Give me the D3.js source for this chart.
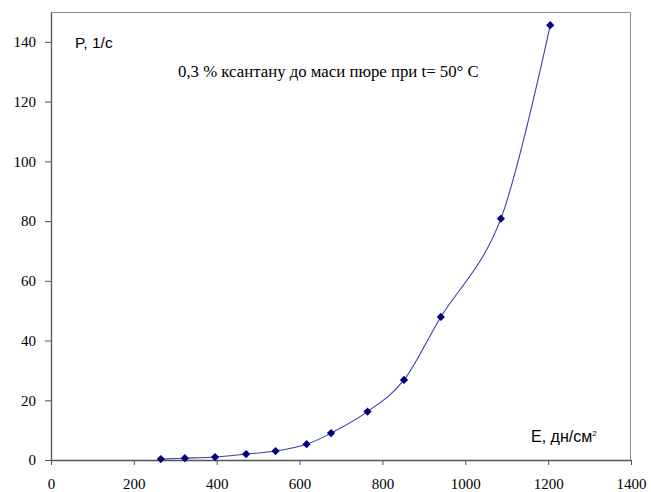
<!DOCTYPE html>
<html>
<head>
<meta charset="utf-8">
<script src="https://cdn.jsdelivr.net/npm/d3@7"></script>
<style>
  body { margin: 0; background: #fff; }
  svg { display: block; }
</style>
</head>
<body>
<svg id="chart" width="651" height="492"></svg>
<script>
// values
var shear = [265, 323, 396, 471, 542, 617, 676, 764, 852, 941, 1086, 1205];   // E, дн/см2
var rate = [0.3, 0.6, 1.0, 2.0, 3.0, 5.3, 9.0, 16.2, 26.8, 47.9, 80.8, 145.6]; // P, 1/с
var xTicks = [0, 200, 400, 600, 800, 1000, 1200, 1400];
var yTicks = [0, 20, 40, 60, 80, 100, 120, 140];

var SERIF = "'Liberation Serif'", SANS = "'Liberation Sans'";

var margin = {top: 12, right: 20, bottom: 32, left: 51},
    width = 651 - margin.left - margin.right,
    height = 492 - margin.top - margin.bottom;

var svg = d3.select("#chart");
var chart = svg.append("g")
    .attr("transform", "translate(" + margin.left + "," + margin.top + ")");

var x = d3.scaleLinear().domain([0, 1400]).range([0, width]);
var y = d3.scaleLinear().domain([0, 150]).range([height, 0]);

// plot border (top and right)
chart.append("path")
    .attr("d", "M0,0.5H" + (width - 0.5) + "V" + height)
    .attr("fill", "none")
    .attr("stroke", "#8c8c8c")
    .attr("stroke-width", 1);

// x-axis
var xAxis = chart.append("g")
    .attr("transform", "translate(0," + height + ")")
    .call(d3.axisBottom(x).tickValues(xTicks).tickFormat(d3.format("d"))
      .tickSize(5).tickPadding(13).tickSizeOuter(0));

// y-axis
var yAxis = chart.append("g")
    .call(d3.axisLeft(y).tickValues(yTicks).tickFormat(d3.format("d"))
      .tickSize(6).tickPadding(9).tickSizeOuter(0));

[xAxis, yAxis].forEach(function(a) {
  a.selectAll(".tick text")
    .attr("fill", "#000")
    .style("font-family", SERIF)
    .style("font-size", "15px");
  a.select(".domain").attr("stroke", "#555").attr("stroke-width", 1.3);
  a.selectAll(".tick line").attr("stroke", "#555");
});

var pts = shear.map(function(d, i) { return {e: d, p: rate[i]}; });

// smoothed line
var line = d3.line()
    .x(function(d) { return x(d.e); })
    .y(function(d) { return y(d.p); })
    .curve(d3.curveCardinal.tension(0));

chart.append("path")
    .datum(pts)
    .attr("d", line)
    .attr("fill", "none")
    .attr("stroke", "#3c3cab")
    .attr("stroke-width", 1.1);

// diamond markers
chart.selectAll(".marker")
    .data(pts)
    .enter().append("path")
    .attr("class", "marker")
    .attr("d", d3.symbol(d3.symbolSquare).size(34))
    .attr("transform", function(d) { return "translate(" + x(d.e) + "," + y(d.p) + ") rotate(45)"; })
    .attr("fill", "#000080");

// labels
svg.append("text")
    .attr("x", 75).attr("y", 48)
    .style("font-family", SANS)
    .style("font-size", "15.5px")
    .text("P, 1/с");

svg.append("text")
    .attr("x", 178).attr("y", 77)
    .style("font-family", SERIF)
    .style("font-size", "16.8px")
    .text("0,3 % ксантану до маси пюре при t= 50° С");

var el = svg.append("text")
    .attr("x", 531).attr("y", 442)
    .style("font-family", SANS)
    .style("font-size", "16px")
    .text("Е, дн/см");
el.append("tspan")
    .attr("dy", -6)
    .style("font-size", "8px")
    .text("2");
</script>
</body>
</html>
